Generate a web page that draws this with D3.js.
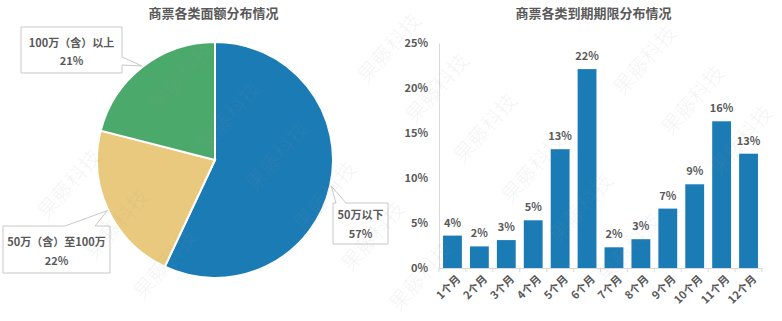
<!DOCTYPE html>
<html><head><meta charset="utf-8">
<script src="https://cdn.jsdelivr.net/npm/d3@7/dist/d3.min.js"></script>
<style>
html,body{margin:0;padding:0;background:#fff;}
svg{display:block;font-family:"Noto Sans CJK SC","Noto Sans",sans-serif;}
</style></head>
<body>
<svg id="c" width="782" height="321"></svg>
<script>
// ---- data ----
const pieTitle = "商票各类面额分布情况";
const pieCategories = ["50万以下", "50万（含）至100万", "100万（含）以上"];
const pieValues = [57, 22, 21];
const pieColors = ["#1b7bb5", "#e9c97d", "#4ca96c"];

const barTitle = "商票各类到期期限分布情况";
const barCategories = ["1个月","2个月","3个月","4个月","5个月","6个月","7个月","8个月","9个月","10个月","11个月","12个月"];
const barValues = [3.6, 2.4, 3.1, 5.3, 13.2, 22.1, 2.3, 3.2, 6.6, 9.3, 16.3, 12.7];
const yTicks = [0, 5, 10, 15, 20, 25];
const watermarkText = "果藤科技";

const svg = d3.select("#c");
const textColor = "#595959";

// ---- watermark (drawn first, under marks? reference overlays; use light overlay later) ----

// ---- pie ----
const cx = 215, cy = 160, R = 118;
svg.append("text").attr("x", 213.5).attr("y", 18).attr("text-anchor", "middle")
  .attr("font-size", 13).attr("font-weight", "bold").attr("fill", textColor).text(pieTitle);

const pie = d3.pie().sort(null).value(d => d);
const arcs = pie(pieValues);
const arc = d3.arc().innerRadius(0).outerRadius(R);
const gPie = svg.append("g").attr("transform", `translate(${cx},${cy})`);
gPie.selectAll("path").data(arcs).join("path")
  .attr("d", arc).attr("fill", (d, i) => pieColors[i])
  .attr("stroke", "#fff").attr("stroke-width", 2);

const edgeArc = d3.arc().innerRadius(R + 1).outerRadius(R + 1);
const tips = arcs.map(a => { const c = edgeArc.centroid(a); return [cx + c[0], cy + c[1]]; });

const callouts = [
  {i: 0, box: [333, 203, 388, 244], side: "topLeft", base: [336, 346], ly: [219, 238]},
  {i: 1, box: [3, 226, 110, 273], side: "top", base: [65, 95], ly: [246, 265]},
  {i: 2, box: [21, 27, 122, 73], side: "right", base: [57, 65], ly: [47, 65]}
];
const gCall = svg.append("g");
callouts.forEach(c => {
  const [x0, y0, x1, y1] = c.box;
  const [tx, ty] = tips[c.i];
  let p;
  if (c.side === "right") {
    p = `M${x0},${y0}H${x1}V${c.base[0]}L${tx},${ty}L${x1},${c.base[1]}V${y1}H${x0}Z`;
  } else {
    p = `M${x0},${y0}H${c.base[0]}L${tx},${ty}L${c.base[1]},${y0}H${x1}V${y1}H${x0}Z`;
  }
  gCall.append("path").attr("d", p).attr("fill", "#fff").attr("stroke", "#c8c8c8").attr("stroke-width", 1);
  const mx = (x0 + x1) / 2;
  gCall.append("text").attr("x", mx).attr("y", c.ly[0]).attr("text-anchor", "middle")
    .attr("font-size", 11).attr("font-weight", "bold").attr("fill", textColor).text(pieCategories[c.i]);
  gCall.append("text").attr("x", mx).attr("y", c.ly[1]).attr("text-anchor", "middle")
    .attr("font-size", 11).attr("font-weight", "bold").attr("fill", textColor).text(pieValues[c.i] + "%");
});

// ---- bars ----
svg.append("text").attr("x", 593.5).attr("y", 18).attr("text-anchor", "middle")
  .attr("font-size", 13).attr("font-weight", "bold").attr("fill", textColor).text(barTitle);

const x = d3.scaleBand().domain(barCategories).range([439, 762]).paddingInner(0.3).paddingOuter(0.15);
const y = d3.scaleLinear().domain([0, 25]).range([268, 43]);

const yAxis = svg.append("g").attr("transform", "translate(439,0)")
  .call(d3.axisLeft(y).tickValues(yTicks).tickFormat(d => d + "%").tickSize(0).tickPadding(11));
yAxis.select(".domain").attr("stroke", "#d9d9d9");
yAxis.selectAll("text").attr("font-size", 11).attr("font-weight", "bold").attr("fill", textColor)
  .attr("font-family", "'Noto Sans CJK SC',sans-serif");

const xAxis = svg.append("g").attr("transform", "translate(0,268)")
  .call(d3.axisBottom(x).tickSize(0).tickPadding(6).tickSizeOuter(0));
xAxis.select(".domain").attr("stroke", "#d9d9d9");
xAxis.selectAll("text").attr("font-size", 11).attr("font-weight", "bold").attr("fill", textColor)
  .attr("font-family", "'Noto Sans CJK SC',sans-serif")
  .attr("text-anchor", "end")
  .attr("transform", "translate(-1,2) rotate(-45)");
const step = x.step();
const edges = barCategories.map(d => x(d) - step * 0.15).concat([x(barCategories[barCategories.length - 1]) + x.bandwidth() + step * 0.15]);
svg.append("g").selectAll("line").data(edges).join("line")
  .attr("x1", d => d).attr("x2", d => d)
  .attr("y1", 268).attr("y2", 272).attr("stroke", "#d9d9d9");

svg.append("g").selectAll("rect").data(barValues).join("rect")
  .attr("x", (d, i) => x(barCategories[i])).attr("width", x.bandwidth())
  .attr("y", d => y(d)).attr("height", d => y(0) - y(d)).attr("fill", "#1b7bb5");

svg.append("g").selectAll("text").data(barValues).join("text")
  .attr("x", (d, i) => x(barCategories[i]) + x.bandwidth() / 2)
  .attr("y", d => y(d) - 9).attr("text-anchor", "middle")
  .attr("font-size", 11).attr("font-weight", "bold").attr("fill", textColor)
  .text(d => Math.round(d) + "%");

// ---- watermark overlay (only copies that fit fully inside) ----
const wm = svg.append("g").attr("pointer-events", "none");
const A = [48, 40], B = [112, -108], O = [180, 75];
for (let i = -12; i <= 20; i++) {
  for (let j = -6; j <= 8; j++) {
    const px = O[0] + i * A[0] + j * B[0];
    const py = O[1] + i * A[1] + j * B[1];
    if (px < 36 || px > 746 || py < 40 || py > 281) continue;
    wm.append("text").attr("x", 0).attr("y", 0)
      .attr("transform", `translate(${px},${py}) rotate(-49)`)
      .attr("text-anchor", "middle").attr("dominant-baseline", "central")
      .attr("font-size", 21).attr("font-weight", 300)
      .attr("fill", "#9a9a9a").attr("fill-opacity", 0.12)
      .text(watermarkText);
  }
}
</script>
</body></html>
